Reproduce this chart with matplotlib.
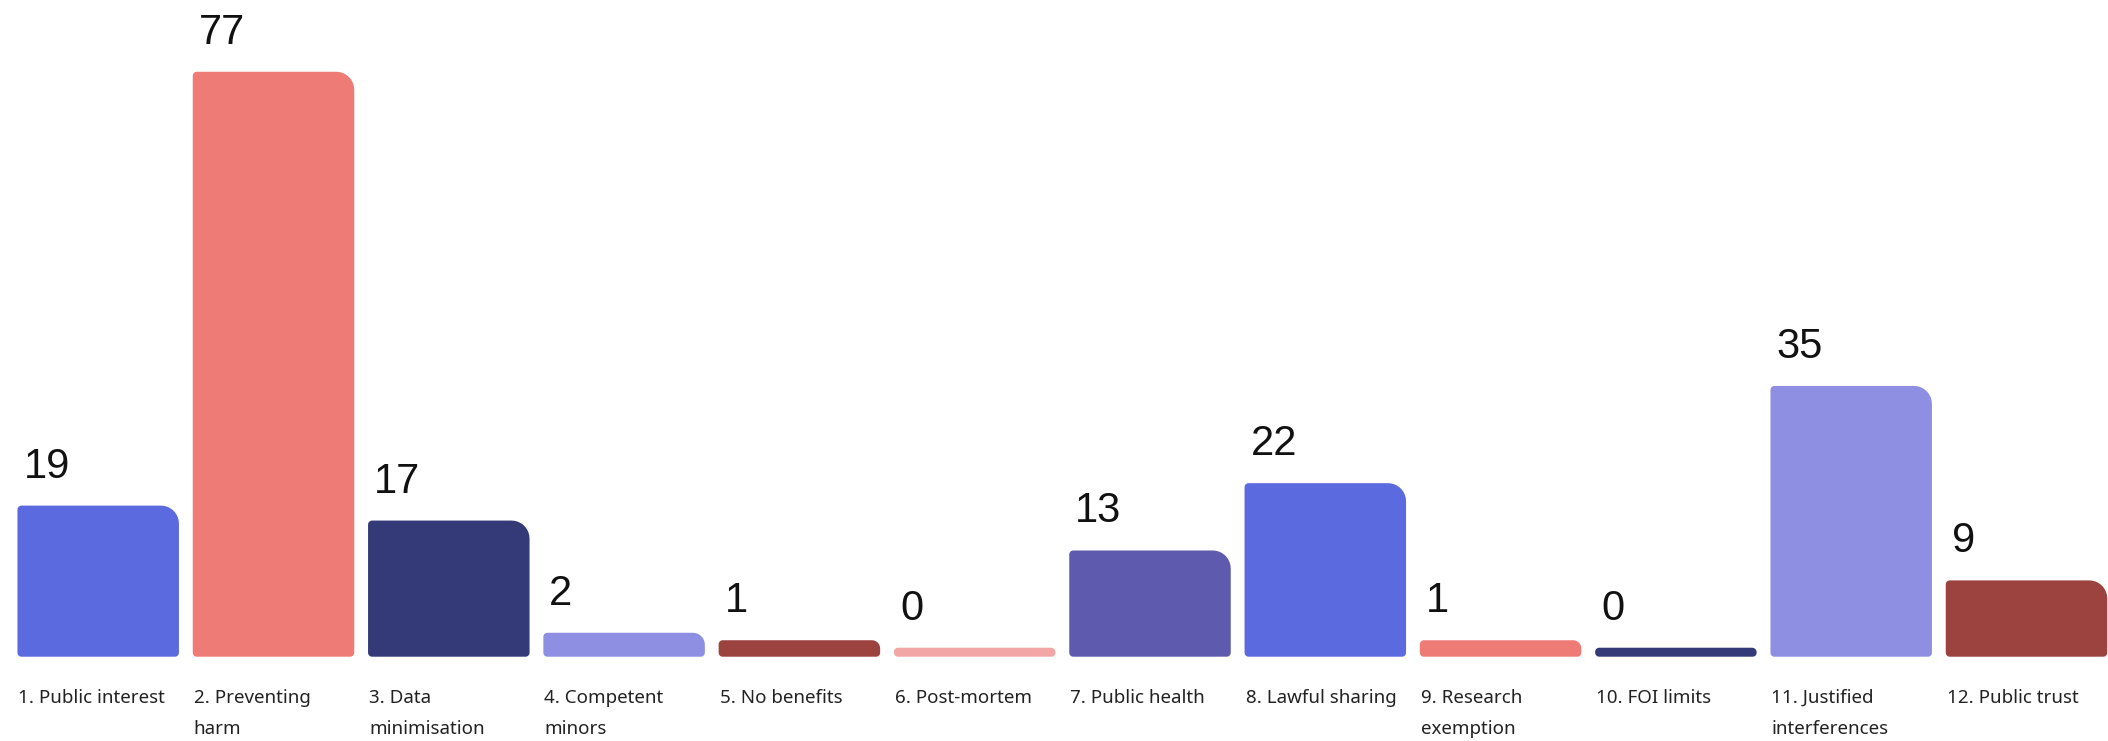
import matplotlib
matplotlib.use('Agg')
import matplotlib.pyplot as plt
import numpy as np
from matplotlib.path import Path
from matplotlib.patches import PathPatch

categories = ['1. Public interest', '2. Preventing\nharm', '3. Data\nminimisation',
              '4. Competent\nminors', '5. No benefits', '6. Post-mortem',
              '7. Public health', '8. Lawful sharing', '9. Research\nexemption',
              '10. FOI limits', '11. Justified\ninterferences', '12. Public trust']
values = [19, 77, 17, 2, 1, 0, 13, 22, 1, 0, 35, 9]
colors = ['#5B6ADF', '#EE7B76', '#343A78', '#8E8FE3', '#9C423F', '#F2A7A6',
          '#5E5AAD', '#5B6ADF', '#EE7B76', '#343A78', '#8E8FE3', '#9C423F']

STUB = 1.2  # small visible stub so zero values still show


def rounded_bar(x0, y0, w, h, sx, sy, r_big=18, r_small=4):
    # radii are in pixels, converted to data units with sx, sy (px per unit)
    hpx = h * sy
    rb = min(r_big, hpx / 2.0)
    rs = min(r_small, hpx / 2.0)
    pts = []

    def corner(cx, cy, r, a0, a1):
        for a in np.linspace(a0, a1, 10):
            pts.append((cx + r / sx * np.cos(a), cy + r / sy * np.sin(a)))

    x1, y1 = x0 + w, y0 + h
    corner(x0 + rs / sx, y0 + rs / sy, rs, np.pi, 1.5 * np.pi)
    corner(x1 - rs / sx, y0 + rs / sy, rs, 1.5 * np.pi, 2 * np.pi)
    corner(x1 - rb / sx, y1 - rb / sy, rb, 0, 0.5 * np.pi)
    corner(x0 + rs / sx, y1 - rs / sy, rs, 0.5 * np.pi, np.pi)
    pts.append(pts[0])
    codes = [Path.MOVETO] + [Path.LINETO] * (len(pts) - 2) + [Path.CLOSEPOLY]
    return Path(pts, codes)


fig = plt.figure(figsize=(21.08, 7.41), dpi=100)
ax = fig.add_axes([0, 0, 1, 1])
pitch = 175.3
yscale = 7.48
xl = -98.2 / pitch
ax.set_xlim(xl, xl + 2108 / pitch)
yb = -STUB - (741 - 656.7) / yscale
ax.set_ylim(yb, yb + 741 / yscale)
ax.axis('off')

x = np.arange(len(values))
bars = ax.bar(x, np.array(values) + STUB, bottom=-STUB, width=161.5 / pitch, color=colors)

for b, c, v, lab in zip(bars, colors, values, categories):
    b.set_visible(False)
    p = rounded_bar(b.get_x(), b.get_y(), b.get_width(), b.get_height(), pitch, yscale)
    ax.add_patch(PathPatch(p, facecolor=c, edgecolor='none'))
    ax.annotate(str(v), (b.get_x(), v), xytext=(6, 28), textcoords='offset pixels',
                ha='left', va='baseline', fontsize=30, family='Liberation Sans', color='#111111')
    ax.annotate(lab, (b.get_x(), -STUB), xytext=(1, -32), textcoords='offset pixels',
                ha='left', va='top', fontsize=13.5, family='Noto Sans', color='#222222',
                linespacing=1.95)

fig.savefig('out.png', dpi=100)
